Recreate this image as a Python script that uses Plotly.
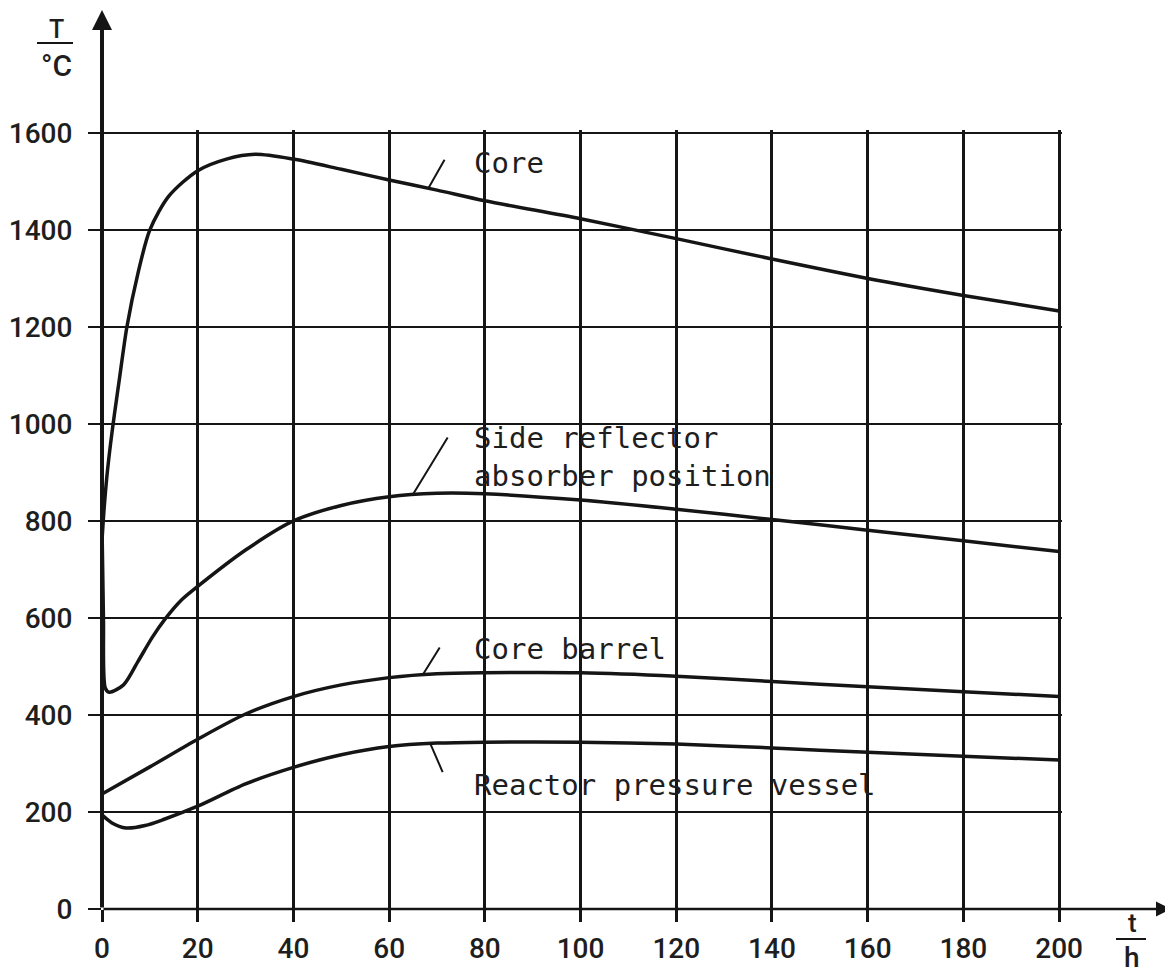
import numpy as np
import plotly.graph_objects as go

# ---- data ----
t_core = [0, 0.4, 1.0, 1.8, 2.6, 3.6, 5.2, 7.5, 10, 14, 20, 26, 32, 40, 50, 60, 70, 80, 100, 120, 140, 160, 180, 200]
T_core = [760, 820, 890, 960, 1020, 1090, 1200, 1310, 1400, 1470, 1522, 1546, 1556, 1546, 1525, 1503, 1482, 1460, 1423, 1382, 1340, 1300, 1265, 1233]

t_side = [0, 0.3, 0.7, 1.5, 4.5, 7.5, 10.5, 13.2, 16.5, 20, 30, 40, 50, 60, 70, 80, 100, 120, 140, 160, 180, 200]
T_side = [790, 600, 455, 447, 462, 510, 560, 598, 636, 665, 740, 800, 832, 850, 857, 856, 843, 824, 803, 781, 759, 737]

t_barrel = [0, 10, 20, 30, 40, 50, 60, 70, 80, 100, 120, 140, 160, 180, 200]
T_barrel = [237, 293, 350, 402, 438, 462, 477, 485, 487, 487, 480, 469, 458, 448, 438]

t_rpv = [0, 2, 5, 9, 13, 20, 30, 40, 50, 60, 70, 80, 100, 120, 140, 160, 180, 200]
T_rpv = [194, 178, 167, 172, 185, 212, 258, 292, 318, 335, 342, 344, 344, 340, 332, 323, 315, 307]

x_ticks = [0, 20, 40, 60, 80, 100, 120, 140, 160, 180, 200]
y_ticks = [0, 200, 400, 600, 800, 1000, 1200, 1400, 1600]

series = [
    ("Core", t_core, T_core),
    ("Side reflector<br>absorber position", t_side, T_side),
    ("Core barrel", t_barrel, T_barrel),
    ("Reactor pressure vessel", t_rpv, T_rpv),
]

# page body has an 8px margin; figure is sized/placed to compensate
OFF = 8
W, H = 1165, 965
L, R, T_, B = 94, 111, 122, 64
PW, PH = W - L - R, H - T_ - B
Y0 = H - B + OFF  # screen y of the x axis

def paper(px, py):
    """screen pixel -> paper coordinates"""
    return (px - OFF - L) / PW, (Y0 - py) / PH

INK = "#151515"
NUMFAM = "Roboto, Liberation Sans, sans-serif"
TICKFONT = dict(family=NUMFAM, size=28, color="#1e1e1e", weight=500)
LABFONT = dict(family="DejaVu Sans Mono, Liberation Mono, monospace", size=29, color="#1e1e1e")

fig = go.Figure()
for name, xs, ys in series:
    fig.add_trace(go.Scatter(x=xs, y=ys, mode="lines", name=name.replace("<br>", " "),
                             line=dict(color=INK, width=3.5, shape="spline", smoothing=0.8),
                             showlegend=False, hoverinfo="skip"))

annotations = []
# axis arrows
_, hy = paper(0, 10)
annotations.append(dict(x=0, xref="x", y=hy, yref="paper", text="", showarrow=True,
                        ax=0, ay=Y0 - 10, arrowhead=2, arrowsize=1, arrowwidth=4,
                        arrowcolor=INK, standoff=0, startstandoff=0))
rx, _ = paper(1171, 0)
annotations.append(dict(x=rx, xref="paper", y=0, yref="y", text="", showarrow=True,
                        ax=-(1171 - OFF - L), ay=0, arrowhead=2, arrowsize=1.2, arrowwidth=2.5,
                        arrowcolor=INK, standoff=0, startstandoff=0))

# curve labels
lab_x = 77.3
for (name, _, _), yv in zip(series, [1538, 932, 537, 256]):
    annotations.append(dict(x=lab_x, y=yv, xref="x", yref="y", text=name, showarrow=False,
                            xanchor="left", yanchor="middle", align="left", font=LABFONT))

# leader lines from curve to label
for (name, xs, ys), t0, (ox, oy) in zip(series, [68.2, 64.9, 67.0, 68.6],
                                        [(17, -30), (36, -59), (18, -29), (13, 30)]):
    annotations.append(dict(x=t0, y=float(np.interp(t0, xs, ys)), xref="x", yref="y",
                            text="", showarrow=True, ax=ox, ay=oy, arrowhead=0,
                            arrowwidth=2, arrowcolor=INK, standoff=0))

# axis unit fractions
for txt, (px, py), sz in [("T", (56, 29), 25), ("°C", (56, 66), 30),
                          ("t", (1132, 923), 26), ("h", (1132, 958), 28)]:
    ax_, ay_ = paper(px, py)
    annotations.append(dict(x=ax_, y=ay_, xref="paper", yref="paper", text=txt,
                            showarrow=False, xanchor="center", yanchor="middle",
                            font=dict(family=NUMFAM, size=sz, color="#1e1e1e", weight=500)))

shapes = []
for (x0, x1, yy) in [(37, 73, 43), (1116, 1146, 939)]:
    a0, b0 = paper(x0, yy)
    a1, _ = paper(x1, yy)
    shapes.append(dict(type="line", xref="paper", yref="paper", x0=a0, x1=a1, y0=b0, y1=b0,
                       line=dict(color=INK, width=2)))

# white patches where the print leaves the grid blank behind the labels
for (x0, y0, x1, y1) in [(468, 143, 553, 192), (433, 410, 727, 458), (468, 456, 771, 489),
                         (468, 626, 666, 664), (468, 758, 862, 806)]:
    a0, b0 = paper(x0, y0)
    a1, b1 = paper(x1, y1)
    shapes.append(dict(type="rect", xref="paper", yref="paper", x0=a0, x1=a1, y0=b1, y1=b0,
                       fillcolor="white", line=dict(width=0), layer="between"))

fig.update_layout(
    width=W, height=H, margin=dict(l=L, r=R, t=T_, b=B, autoexpand=False),
    paper_bgcolor="white", plot_bgcolor="white",
    annotations=annotations, shapes=shapes, hovermode=False,
    xaxis=dict(range=[0, 200.6], tickvals=x_ticks, ticktext=[str(v) for v in x_ticks],
               showgrid=True, gridcolor=INK, gridwidth=2.5, zeroline=False, showline=False,
               ticks="outside", ticklen=12, tickwidth=2.5, tickcolor=INK,
               tickfont=TICKFONT, fixedrange=True, ticklabelstandoff=2),
    yaxis=dict(range=[0, 1606], tickvals=y_ticks, ticktext=[str(v) for v in y_ticks],
               showgrid=True, gridcolor=INK, gridwidth=2, zeroline=False, showline=False,
               ticks="outside", ticklen=13, tickwidth=2, tickcolor=INK,
               tickfont=TICKFONT, fixedrange=True, ticklabelstandoff=10),
)

fig.write_html("out.html")
